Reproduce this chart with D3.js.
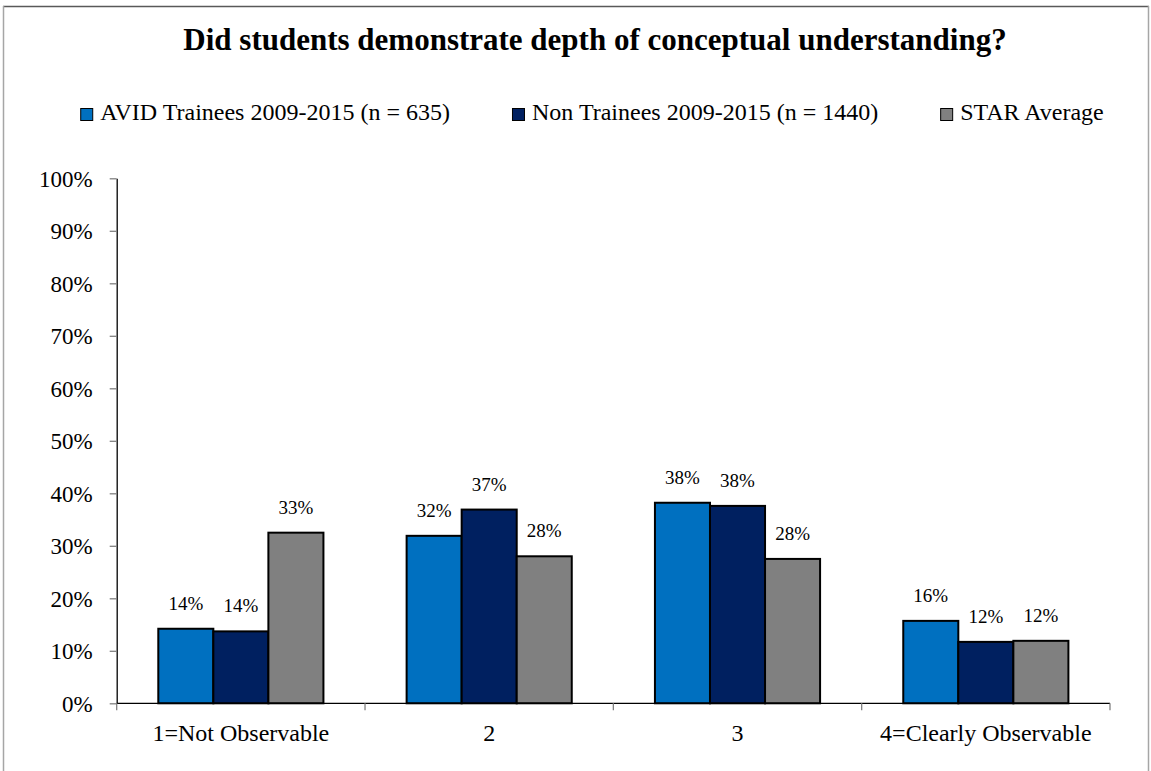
<!DOCTYPE html>
<html>
<head>
<meta charset="utf-8">
<script src="https://cdn.jsdelivr.net/npm/d3@7"></script>
<style>
  html, body { margin: 0; padding: 0; background: #fff; }
  svg { display: block; font-family: "Liberation Serif", "DejaVu Serif", serif; }
</style>
</head>
<body>
<svg id="chart" width="1151" height="771"></svg>
<script>
// Rating categories along the x axis
const categories = ["1=Not Observable", "2", "3", "4=Clearly Observable"];

// Series (percent of observations)
const seriesNames = [
  "AVID Trainees 2009-2015 (n = 635)",
  "Non Trainees 2009-2015 (n = 1440)",
  "STAR Average"
];
const avidTrainees = [14.2, 31.9, 38.2, 15.7];
const nonTrainees  = [13.7, 36.9, 37.6, 11.7];
const starAverage  = [32.5, 28.0, 27.5, 11.9];

// Y axis tick values
const yTicks = [0, 10, 20, 30, 40, 50, 60, 70, 80, 90, 100];

const seriesValues = [avidTrainees, nonTrainees, starAverage];
const seriesColors = ["#0070C0", "#002060", "#808080"];

const svg = d3.select("#chart");

// Outer frame
svg.append("line").attr("x1", 3).attr("x2", 1149).attr("y1", 6.5).attr("y2", 6.5)
  .attr("stroke", "#595959").attr("stroke-width", 1.5);
svg.append("line").attr("x1", 3.5).attr("x2", 3.5).attr("y1", 6).attr("y2", 771)
  .attr("stroke", "#a6a6a6").attr("stroke-width", 1.5);
svg.append("line").attr("x1", 1148.5).attr("x2", 1148.5).attr("y1", 6).attr("y2", 771)
  .attr("stroke", "#a6a6a6").attr("stroke-width", 1.5);

const plot = { left: 116.7, right: 1110, top: 178.3, bottom: 703.3 };

const y = d3.scaleLinear().domain([0, 100]).range([plot.bottom, plot.top]);

// Category slots (used for the boundary ticks) and grouped-bar positions
const xSlot = d3.scaleBand().domain(categories).range([plot.left, plot.right]).padding(0);
const x0 = d3.scaleBand().domain(categories).range([plot.left, plot.right])
  .paddingInner(0.335).paddingOuter(0.1675);
const x1 = d3.scaleBand().domain(d3.range(seriesNames.length)).range([0, x0.bandwidth()]).padding(0);

// Title
svg.append("text")
  .attr("x", 595).attr("y", 50)
  .attr("text-anchor", "middle")
  .attr("font-weight", "bold")
  .attr("font-size", 31)
  .attr("fill", "#000")
  .text("Did students demonstrate depth of conceptual understanding?");

// Legend, laid out left to right and centred
const legend = svg.append("g");
const legendFont = 24, sw = 12, textGap = 8, itemGap = 62;
let lx = 0;
seriesNames.forEach((name, i) => {
  const g = legend.append("g").attr("transform", `translate(${lx},0)`);
  g.append("rect").attr("x", 0.5).attr("y", 108.5).attr("width", sw).attr("height", sw)
    .attr("fill", seriesColors[i]).attr("stroke", "#000").attr("stroke-width", 1);
  const t = g.append("text").attr("x", sw + textGap).attr("y", 120)
    .attr("font-size", legendFont).attr("fill", "#000").text(name);
  lx += sw + textGap + t.node().getComputedTextLength() + itemGap;
});
const legendWidth = lx - itemGap;
legend.attr("transform", `translate(${592 - legendWidth / 2},0)`);

// Y axis
const yAxis = d3.axisLeft(y).tickValues(yTicks).tickSize(7).tickSizeOuter(0)
  .tickFormat(d => d + "%");
const gy = svg.append("g").attr("transform", `translate(${plot.left},0)`).call(yAxis);
gy.select(".domain").attr("stroke", "#000").attr("stroke-width", 1.3);
gy.selectAll(".tick line").attr("stroke", "#808080").attr("stroke-width", 1.3);
gy.selectAll(".tick text").attr("font-family", "Liberation Serif, serif")
  .attr("font-size", 23).attr("fill", "#000").attr("x", -24).attr("dy", "0.35em");

// Bars
const groups = svg.append("g").selectAll("g")
  .data(categories)
  .join("g")
  .attr("transform", d => `translate(${x0(d)},0)`);

groups.selectAll("rect")
  .data((c, ci) => seriesValues.map((vals, si) => ({ si, v: vals[ci] })))
  .join("rect")
  .attr("x", d => x1(d.si))
  .attr("width", x1.bandwidth())
  .attr("y", d => y(d.v))
  .attr("height", d => y(0) - y(d.v))
  .attr("fill", d => seriesColors[d.si])
  .attr("stroke", "#000")
  .attr("stroke-width", 2);

// Value labels
groups.selectAll("text.val")
  .data((c, ci) => seriesValues.map((vals, si) => ({ si, v: vals[ci] })))
  .join("text")
  .attr("class", "val")
  .attr("x", d => x1(d.si) + x1.bandwidth() / 2)
  .attr("y", d => y(d.v) - 19)
  .attr("text-anchor", "middle")
  .attr("font-size", 19)
  .attr("fill", "#000")
  .text(d => Math.round(d.v) + "%");

// X axis line with ticks at the category boundaries
svg.append("line")
  .attr("x1", plot.left).attr("x2", plot.right)
  .attr("y1", y(0)).attr("y2", y(0))
  .attr("stroke", "#000").attr("stroke-width", 1.3);
const boundaries = categories.map(c => xSlot(c)).concat([plot.right]);
svg.append("g").selectAll("line")
  .data(boundaries)
  .join("line")
  .attr("x1", d => d).attr("x2", d => d)
  .attr("y1", y(0)).attr("y2", y(0) + 7)
  .attr("stroke", "#808080").attr("stroke-width", 1.3);

// Category labels
svg.append("g").selectAll("text")
  .data(categories)
  .join("text")
  .attr("x", d => xSlot(d) + xSlot.bandwidth() / 2)
  .attr("y", 741)
  .attr("text-anchor", "middle")
  .attr("font-size", 24)
  .attr("fill", "#000")
  .text(d => d);
</script>
</body>
</html>
